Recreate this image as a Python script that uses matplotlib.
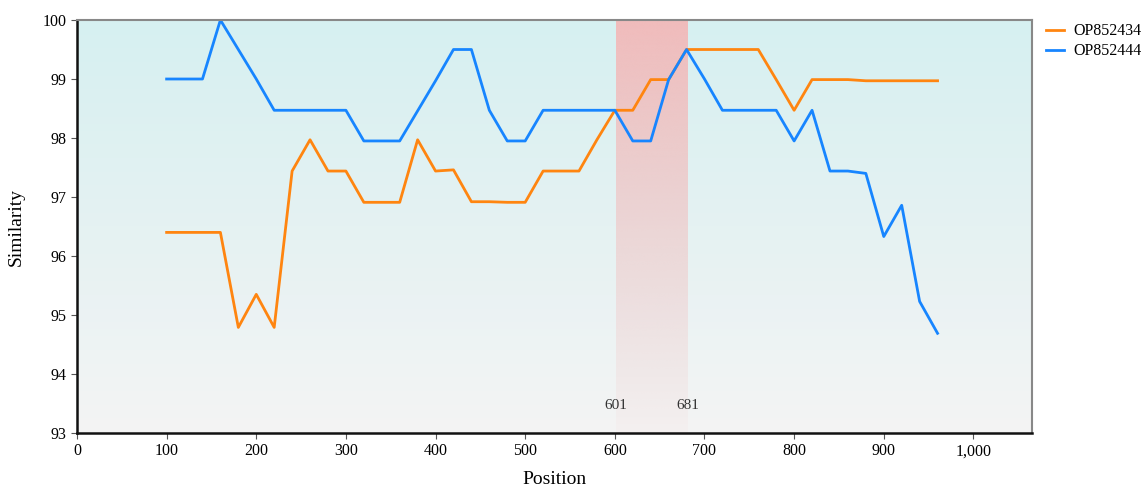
import numpy as np
import matplotlib.pyplot as plt
from matplotlib.ticker import FuncFormatter
from matplotlib.colors import to_rgb

plt.rcParams['font.family'] = ['Liberation Serif', 'DejaVu Serif']

# data
positions = list(range(100, 961, 20))
op852434 = [96.4, 96.4, 96.4, 96.4, 94.79, 95.35, 94.79, 97.44, 97.97, 97.44,
            97.44, 96.91, 96.91, 96.91, 97.97, 97.44, 97.46, 96.92, 96.92, 96.91,
            96.91, 97.44, 97.44, 97.44, 97.97, 98.47, 98.47, 98.99, 98.99, 99.5,
            99.5, 99.5, 99.5, 99.5, 98.99, 98.47, 98.99, 98.99, 98.99, 98.97,
            98.97, 98.97, 98.97, 98.97]
op852444 = [99.0, 99.0, 99.0, 100.0, 99.5, 99.0, 98.47, 98.47, 98.47, 98.47,
            98.47, 97.95, 97.95, 97.95, 98.46, 98.97, 99.5, 99.5, 98.47, 97.95,
            97.95, 98.47, 98.47, 98.47, 98.47, 98.47, 97.95, 97.95, 98.99, 99.5,
            99.0, 98.47, 98.47, 98.47, 98.47, 97.95, 98.47, 97.44, 97.44, 97.40,
            96.33, 96.86, 95.23, 94.69]
series_names = ['OP852434', 'OP852444']
series_colors = ['#ff8510', '#1785ff']
region = (601, 681)

xmax = 1065
ymin, ymax = 93, 100

fig = plt.figure(figsize=(11.42, 4.88), dpi=100)
ax = fig.add_axes([0.0674, 0.1127, 0.9034 - 0.0674, 0.959 - 0.1127])

# background gradient (cyan top -> grey bottom)
top = np.array(to_rgb('#d6f0f1'))
bot = np.array(to_rgb('#f4f4f4'))
t = np.linspace(0, 1, 256)[:, None]
grad = top * (1 - t) + bot * t
ax.imshow(grad[:, None, :], extent=[0, xmax, ymin, ymax], aspect='auto',
          zorder=0, interpolation='bicubic')

# highlighted region gradient
band = np.zeros((256, 1, 4))
band[:, 0, :3] = to_rgb('#f4b6b6')
band[:, 0, 3] = np.linspace(0.9, 0.05, 256)
ax.imshow(band, extent=[region[0], region[1], ymin, ymax], aspect='auto',
          zorder=1, interpolation='bicubic')
for r in region:
    ax.text(r, 93.46, str(r), ha='center', va='center', fontsize=11, color='#333333', zorder=3)

for vals, name, c in zip([op852434, op852444], series_names, series_colors):
    ax.plot(positions, vals, color=c, lw=2.0, label=name, zorder=2)

ax.set_xlim(0, xmax)
ax.set_ylim(ymin, ymax)
ax.set_xticks(range(0, 1001, 100))
ax.set_yticks(range(93, 101))
ax.xaxis.set_major_formatter(FuncFormatter(lambda v, p: '{:,.0f}'.format(v)))
ax.tick_params(labelsize=11.5, length=4, color='#555555')

for s in ['left', 'bottom']:
    ax.spines[s].set_linewidth(1.8)
    ax.spines[s].set_color('#111111')
for s in ['top', 'right']:
    ax.spines[s].set_linewidth(1.5)
    ax.spines[s].set_color('#888888')

ax.set_xlabel('Position', fontsize=14, labelpad=8)
ax.set_ylabel('Similarity', fontsize=14, labelpad=13)

ax.legend(loc='upper left', bbox_to_anchor=(1.012, 1.0), frameon=False,
          fontsize=11.5, handlelength=1.1, handletextpad=0.6,
          borderaxespad=0.0, borderpad=0.2, labelspacing=0.25)

plt.savefig('out.png', dpi=100)
